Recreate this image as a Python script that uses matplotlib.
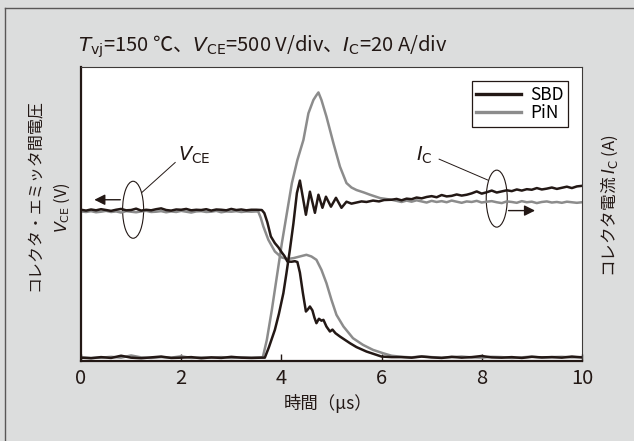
import numpy as np
import matplotlib
matplotlib.use("Agg")
import matplotlib.pyplot as plt
from matplotlib.patches import Ellipse
from matplotlib.lines import Line2D

plt.rcParams['font.family'] = ['Noto Sans CJK JP', 'DejaVu Sans']
plt.rcParams['mathtext.fontset'] = 'dejavusans'

BLACK = '#231815'
GRAY = '#8c8c8c'
BG = '#dcdddd'

# time grids (us)
t_head = np.round(np.arange(0, 3.55, 0.1), 2)      # flat VCE before turn-off
t_low_head = np.round(np.arange(0, 3.65, 0.2), 2)  # IC baseline before turn-off
t_low_tail = np.round(np.arange(6.4, 10.05, 0.2), 2)  # VCE baseline after turn-off
t_tail = np.round(np.arange(6.2, 10.05, 0.1), 2)   # IC after turn-off

# ---- V_CE (plot units) ----
vce_sbd_head = [54.0, 53.7, 54.1, 53.8, 54.2, 53.9, 53.6, 54.0, 54.3, 53.8, 53.9, 54.4,
                53.7, 54.0, 53.8, 54.2, 54.5, 53.9, 53.7, 54.1, 54.0, 54.3, 53.8, 54.0,
                53.9, 54.2, 53.7, 54.1, 54.0, 53.8, 54.3, 53.9, 54.1, 53.8, 54.0, 54.0]
vce_sbd_t = [3.61, 3.66, 3.72, 3.79, 3.87, 3.94, 4.01, 4.06, 4.12, 4.2, 4.27, 4.32, 4.37,
             4.43, 4.49, 4.53, 4.57, 4.62, 4.66, 4.7, 4.75, 4.8, 4.84, 4.9, 4.97, 5.02,
             5.08, 5.17, 5.27, 5.37, 5.5, 5.6, 5.7, 5.85, 6.0, 6.2]
vce_sbd_mid = [53.9, 52.8, 49.5, 44.4, 42.0, 40.5, 38.6, 37.4, 35.4, 35.3, 35.5, 35.2, 31.4,
               24.0, 17.4, 18.2, 19.2, 17.8, 15.2, 13.2, 14.8, 14.1, 14.4, 12.0, 10.2, 10.9,
               9.6, 8.4, 7.2, 6.0, 4.6, 3.8, 3.0, 2.1, 1.2, 1.0]
vce_sbd_tail = [1.0, 0.8, 1.2, 0.9, 0.7, 1.1, 0.8, 1.0, 1.4, 0.9, 0.8, 1.0, 0.7, 1.1, 0.9,
                1.0, 0.8, 1.2, 0.9]

vce_pin_head = [53.4, 53.2, 53.5, 53.1, 53.3, 53.6, 53.2, 53.4, 53.0, 53.5, 53.3, 53.1,
                53.4, 53.6, 53.2, 53.3, 53.5, 53.1, 53.4, 53.2, 53.6, 53.3, 53.0, 53.4,
                53.5, 53.2, 53.3, 53.6, 53.1, 53.4, 53.3, 53.5, 53.2, 53.4, 53.3, 53.4]
vce_pin_t = [3.54, 3.59, 3.64, 3.74, 3.87, 4.0, 4.12, 4.24, 4.37, 4.5, 4.6, 4.7, 4.8, 4.9,
             5.0, 5.1, 5.24, 5.43, 5.63, 5.83, 6.03, 6.2]
vce_pin_mid = [53.3, 51.0, 48.0, 43.2, 39.0, 36.9, 36.3, 36.6, 37.2, 37.8, 37.2, 36.0, 32.4,
               27.6, 21.6, 16.2, 12.0, 7.8, 5.4, 3.6, 2.4, 1.5]
vce_pin_tail = [1.1, 0.9, 1.3, 1.0, 0.8, 1.0, 1.2, 0.9, 0.8, 1.1, 1.0, 0.7, 0.9, 1.2, 0.8,
                1.0, 1.1, 0.9, 1.0]

# ---- I_C (plot units) ----
ic_sbd_head = [0.8, 0.6, 1.0, 0.7, 1.5, 0.8, 0.6, 0.9, 1.2, 0.7, 0.8, 1.0, 0.6, 0.9, 0.7,
               1.1, 0.8, 0.7, 0.8]
ic_sbd_t = [3.67, 3.75, 3.87, 3.95, 4.04, 4.1, 4.17, 4.24, 4.31, 4.37, 4.49, 4.57, 4.67,
            4.74, 4.82, 4.89, 4.99, 5.09, 5.2, 5.3, 5.4, 5.5, 5.6, 5.7, 5.83, 5.95, 6.05]
ic_sbd_mid = [0.8, 4.5, 10.8, 16.5, 24.0, 31.0, 39.6, 49.0, 60.0, 64.5, 52.2, 60.5, 52.9,
              59.4, 54.7, 58.7, 55.1, 58.3, 54.7, 56.9, 56.2, 56.6, 57.0, 56.8, 57.3, 57.0,
              57.5]
ic_sbd_tail = [57.6, 57.9, 57.4, 58.0, 57.8, 58.4, 58.1, 58.6, 58.9, 58.5, 59.3, 58.8, 59.0,
               59.5, 59.1, 59.4, 59.9, 60.6, 59.8, 60.3, 60.9, 60.2, 60.6, 61.0, 60.7, 61.3,
               60.9, 61.4, 61.2, 61.8, 61.3, 61.6, 62.0, 61.5, 61.9, 62.3, 61.8, 62.4, 62.6]

ic_pin_head = [0.9, 0.7, 0.8, 1.1, 0.8, 1.6, 0.9, 0.7, 1.0, 0.8, 1.3, 0.7, 0.9, 0.8, 1.0,
               0.7, 0.9, 0.8, 0.9]
ic_pin_t = [3.63, 3.71, 3.81, 3.91, 4.01, 4.11, 4.21, 4.32, 4.44, 4.54, 4.64, 4.7, 4.74,
            4.8, 4.9, 5.04, 5.17, 5.3, 5.4, 5.5, 5.65, 5.77, 5.97]
ic_pin_mid = [1.0, 7.2, 18.0, 30.0, 42.0, 52.8, 63.6, 71.9, 79.1, 88.7, 93.5, 95.2, 96.2,
              93.5, 87.5, 77.9, 69.5, 63.6, 62.0, 61.1, 60.2, 59.4, 58.2]
ic_pin_tail = [57.6, 57.2, 56.8, 57.3, 56.9, 57.4, 57.0, 56.6, 57.2, 56.8, 57.1, 56.7, 57.3,
               56.9, 56.5, 57.0, 56.8, 57.2, 56.6, 56.9, 57.1, 56.7, 56.4, 57.0, 56.8, 56.5,
               57.1, 56.7, 56.9, 56.4, 56.8, 57.0, 56.6, 56.8, 56.5, 56.9, 56.7, 56.5, 56.7]

series = {
    'vce_sbd': (np.concatenate([t_head, vce_sbd_t, t_low_tail]),
                np.concatenate([vce_sbd_head, vce_sbd_mid, vce_sbd_tail])),
    'vce_pin': (np.concatenate([t_head, vce_pin_t, t_low_tail]),
                np.concatenate([vce_pin_head, vce_pin_mid, vce_pin_tail])),
    'ic_sbd': (np.concatenate([t_low_head, ic_sbd_t, t_tail]),
               np.concatenate([ic_sbd_head, ic_sbd_mid, ic_sbd_tail])),
    'ic_pin': (np.concatenate([t_low_head, ic_pin_t, t_tail]),
               np.concatenate([ic_pin_head, ic_pin_mid, ic_pin_tail])),
}

fig = plt.figure(figsize=(6.34, 4.41), dpi=100, facecolor=BG)
ax = fig.add_axes([0.1278, 0.1814, 0.790, 0.667])
ax.set_facecolor('white')

lw = 1.8
ax.plot(*series['vce_pin'], color=GRAY, lw=lw, solid_joinstyle='round')
ax.plot(*series['ic_pin'], color=GRAY, lw=lw, solid_joinstyle='round')
ax.plot(*series['vce_sbd'], color=BLACK, lw=lw, solid_joinstyle='round')
ax.plot(*series['ic_sbd'], color=BLACK, lw=lw, solid_joinstyle='round')

ax.set_xlim(0, 10)
ax.set_ylim(-0.4, 105.4)
ax.set_xticks([0, 2, 4, 6, 8, 10])
ax.set_yticks([])
ax.tick_params(axis='x', direction='in', length=5, width=1, color=BLACK,
               labelsize=14.5, pad=5, labelcolor=BLACK)
for side in ['bottom', 'left']:
    ax.spines[side].set_linewidth(1.6)
    ax.spines[side].set_color(BLACK)
for side in ['top', 'right']:
    ax.spines[side].set_linewidth(0.8)
    ax.spines[side].set_color('#3e3a39')

# legend
handles = [Line2D([], [], color=BLACK, lw=2.4), Line2D([], [], color=GRAY, lw=2.4)]
leg = ax.legend(handles, ['SBD', 'PiN'], loc='upper right', bbox_to_anchor=(0.972, 0.951),
                borderaxespad=0, fancybox=False, framealpha=1, edgecolor=BLACK,
                fontsize=12.5, handlelength=2.6, handletextpad=0.5, labelspacing=0.05,
                borderpad=0.25)
leg.get_frame().set_linewidth(0.9)

# V_CE marker: ellipse + arrow to the left
ax.add_patch(Ellipse((1.04, 54.0), 0.42, 20.5, fill=False, ec=BLACK, lw=0.8))
ax.annotate('', xy=(0.21, 57.6), xytext=(0.84, 57.6),
            arrowprops=dict(arrowstyle='-|>', color=BLACK, lw=1.0, mutation_scale=16))
ax.plot([1.22, 1.88], [60.3, 71.0], color=BLACK, lw=0.7)
ax.text(1.93, 73.6, r'$V_{\rm CE}$', fontsize=14, ha='left', va='center', color=BLACK)

# I_C marker: ellipse + arrow to the right
ax.add_patch(Ellipse((8.30, 58.0), 0.42, 20.5, fill=False, ec=BLACK, lw=0.8))
ax.annotate('', xy=(9.12, 53.7), xytext=(8.48, 53.7),
            arrowprops=dict(arrowstyle='-|>', color=BLACK, lw=1.0, mutation_scale=16))
ax.plot([7.15, 8.12], [72.2, 64.7], color=BLACK, lw=0.7)
ax.text(6.68, 73.4, r'$I_{\rm C}$', fontsize=14, ha='left', va='center', color=BLACK)

# title and axis labels
fig.text(0.123, 0.895, r'$T_{\rm vj}$=150 ℃、$V_{\rm CE}$=500 V/div、$I_{\rm C}$=20 A/div',
         fontsize=14.5, ha='left', va='center', color=BLACK)
fig.text(0.055, 0.558, 'コレクタ・エミッタ間電圧', rotation=90, fontsize=11.5,
         ha='center', va='center', color=BLACK)
fig.text(0.098, 0.528, r'$V_{\rm CE}$ (V)', rotation=90, fontsize=11.5,
         ha='center', va='center', color=BLACK)
fig.text(0.962, 0.533, r'コレクタ電流 $I_{\rm C}$ (A)', rotation=90, fontsize=12,
         ha='center', va='center', color=BLACK)
fig.text(0.518, 0.085, '時間（μs）', fontsize=12.5, ha='center', va='center', color=BLACK)

# outer frame (left and top edges only)
fig.add_artist(Line2D([5 / 634, 5 / 634], [0, 1 - 8 / 441], transform=fig.transFigure,
                      color='#595757', lw=1.0))
fig.add_artist(Line2D([5 / 634, 1], [1 - 8 / 441, 1 - 8 / 441], transform=fig.transFigure,
                      color='#595757', lw=1.0))

fig.savefig('out.png', dpi=100, facecolor=BG)
